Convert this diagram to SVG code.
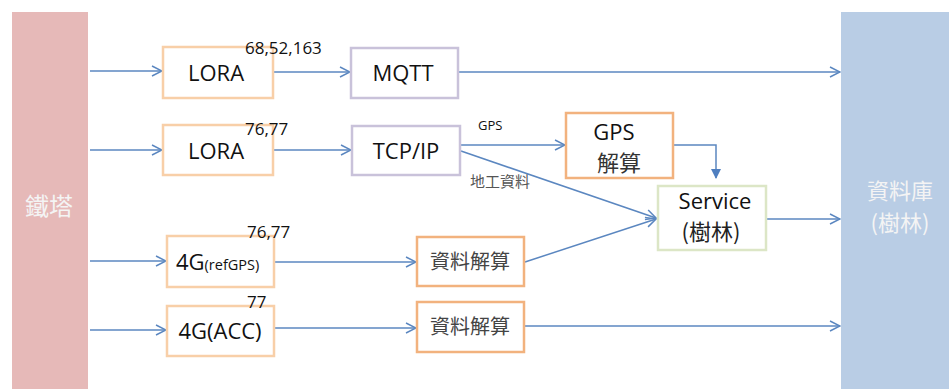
<svg xmlns="http://www.w3.org/2000/svg" width="949" height="389" viewBox="0 0 949 389">
<style>
.t{font-family:"Open Sans","Noto Sans","Noto Sans CJK TC",sans-serif;fill:#111;}
.cjk{font-family:"Noto Sans CJK TC","Noto Sans",sans-serif;}
.bar{font-family:"Noto Sans CJK TC",sans-serif;fill:#F4F4F4;text-anchor:middle;}
.box{fill:#fff;stroke-width:2.5;}
.or{stroke:#F8CFA8;}
.or2{stroke:#F2B27E;}
.pu{stroke:#C9C2DA;}
.gr{stroke:#DCE6C6;}
.c{fill:none;stroke:#5B87C0;stroke-width:1.5;}
</style>
<defs>
<marker id="open" viewBox="0 0 12 12" refX="11" refY="6" markerWidth="12" markerHeight="12" markerUnits="userSpaceOnUse" orient="auto">
<path d="M1,1 L11,6 L1,11" fill="none" stroke="#5B87C0" stroke-width="1.5"/>
</marker>
<marker id="solid" viewBox="0 0 10 10" refX="9" refY="5" markerWidth="10" markerHeight="10" markerUnits="userSpaceOnUse" orient="auto">
<path d="M0,0 L10,5 L0,10 Z" fill="#4F7FC0"/>
</marker>
</defs>
<rect width="949" height="389" fill="#fff"/>
<g id="tower">
<rect x="12" y="12" width="76" height="377" fill="#E6B9B8"/>
<text class="bar" x="49" y="215" font-size="24">鐵塔</text>
</g>
<g id="db">
<rect x="841" y="12" width="108" height="377" fill="#B9CDE5"/>
<text class="bar" x="900" y="199" font-size="22">資料庫</text>
<text class="bar" x="900" y="231" font-size="22">(樹林)</text>
</g>
<g id="connectors">
<line class="c" x1="90" y1="71" x2="162" y2="71" marker-end="url(#open)"/>
<line class="c" x1="90" y1="150" x2="162" y2="150" marker-end="url(#open)"/>
<line class="c" x1="90" y1="261" x2="166" y2="261" marker-end="url(#open)"/>
<line class="c" x1="90" y1="330" x2="166" y2="330" marker-end="url(#open)"/>
<line class="c" x1="274" y1="72" x2="350" y2="72" marker-end="url(#open)"/>
<line class="c" x1="274" y1="150" x2="351" y2="150" marker-end="url(#open)"/>
<line class="c" x1="459" y1="72" x2="840" y2="72" marker-end="url(#open)"/>
<line class="c" x1="461" y1="145" x2="565" y2="145" marker-end="url(#open)"/>
<line class="c" x1="461" y1="151" x2="656" y2="218" marker-end="url(#open)"/>
<polyline class="c" points="674,145 716,145 716,178" marker-end="url(#solid)"/>
<line class="c" x1="275" y1="262" x2="416" y2="262" marker-end="url(#open)"/>
<line class="c" x1="525" y1="262" x2="656" y2="219" marker-end="url(#open)"/>
<line class="c" x1="767" y1="219" x2="840" y2="219" marker-end="url(#open)"/>
<line class="c" x1="275" y1="328" x2="416" y2="328" marker-end="url(#open)"/>
<line class="c" x1="525" y1="326" x2="840" y2="326" marker-end="url(#open)"/>
<text class="t" x="478" y="130" font-size="13">GPS</text>
<text class="cjk" x="470" y="187" font-size="15" fill="#555">地工資料</text>
</g>
<g id="lora1">
<rect class="box or" x="163" y="47" width="110" height="51"/>
<text class="t" x="216" y="81" font-size="22" text-anchor="middle">LORA</text>
<text class="t" x="245" y="54" font-size="17">68,52,163</text>
</g>
<g id="lora2">
<rect class="box or" x="163" y="125" width="110" height="50"/>
<text class="t" x="216" y="159" font-size="22" text-anchor="middle">LORA</text>
<text class="t" x="245" y="135" font-size="17">76,77</text>
</g>
<g id="mqtt">
<rect class="box pu" x="351" y="48" width="107" height="50"/>
<text class="t" x="403" y="81" font-size="22" text-anchor="middle">MQTT</text>
</g>
<g id="tcpip">
<rect class="box pu" x="352" y="126" width="108" height="49"/>
<text class="t" x="406" y="159" font-size="22" text-anchor="middle">TCP/IP</text>
</g>
<g id="gps">
<rect class="box or2" x="566" y="113" width="107" height="65"/>
<text class="t" x="614" y="140" font-size="22" text-anchor="middle">GPS</text>
<text class="cjk" x="619" y="171" font-size="22" text-anchor="middle" fill="#333">解算</text>
</g>
<g id="service">
<rect class="box gr" x="658" y="186" width="108" height="64"/>
<text class="t" x="715" y="209" font-size="22" text-anchor="middle">Service</text>
<text class="cjk" x="711" y="240" font-size="22" text-anchor="middle" fill="#222">(樹林)</text>
</g>
<g id="g4ref">
<rect class="box or" x="167" y="236" width="107" height="51"/>
<text class="t" x="176" y="270" font-size="22">4G<tspan font-size="14.5">(refGPS)</tspan></text>
<text class="t" x="247" y="238" font-size="17">76,77</text>
</g>
<g id="g4acc">
<rect class="box or" x="167" y="306" width="107" height="50"/>
<text class="t" x="220" y="339" font-size="22" text-anchor="middle">4G(ACC)</text>
<text class="t" x="247" y="308" font-size="17">77</text>
</g>
<g id="calc1">
<rect class="box or2" x="417" y="237" width="107" height="49"/>
<text class="cjk" x="470" y="269" font-size="20" text-anchor="middle" fill="#444">資料解算</text>
</g>
<g id="calc2">
<rect class="box or2" x="417" y="302" width="107" height="50"/>
<text class="cjk" x="470" y="334" font-size="20" text-anchor="middle" fill="#444">資料解算</text>
</g>
</svg>
